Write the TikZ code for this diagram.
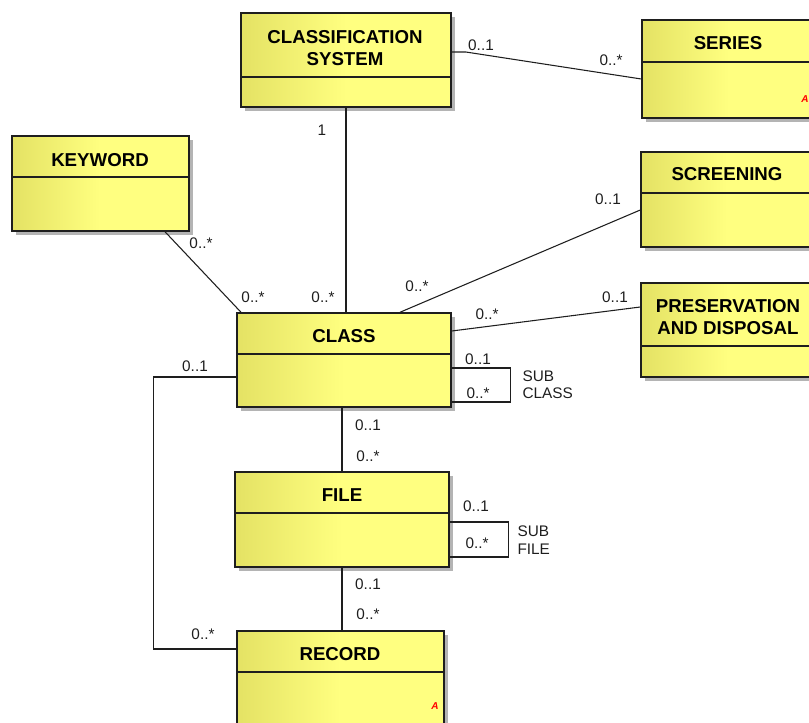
\documentclass[tikz,border=0pt]{standalone}
\usepackage{fontspec}
\setmainfont{Liberation Sans}
\usetikzlibrary{shadows, fit, calc}
\definecolor{umlleft}{RGB}{228,226,100}
\definecolor{umlright}{RGB}{255,255,128}
\definecolor{umlshadow}{RGB}{180,180,180}
\definecolor{umlink}{RGB}{30,30,30}

\begin{document}
\begin{tikzpicture}[x=0.75pt, y=-0.75pt, color=umlink, line width=0.8pt,
        umlbox/.style={draw=umlink, line width=1.1pt, inner sep=0pt, left color=umlleft, right color=umlright, middle color=umlright,
            drop shadow={shadow xshift=3pt, shadow yshift=-3pt, fill=umlshadow, opacity=1}},
        umltitle/.style={font=\fontsize{14}{17}\selectfont\bfseries, text=black, align=center, inner sep=0pt},
        mult/.style={font=\fontsize{11.5}{13}\selectfont, text=umlink, inner sep=0pt},
        role/.style={mult, align=left, anchor=west},
        flag/.style={font=\fontsize{7.5}{8}\selectfont\bfseries\itshape, text=red, inner sep=0pt}]
        \clip (0,0) rectangle (809,723);
        % classes
        \node[umlbox, fit={(241,13) (451,107)}] (cs) {};
        \node[umlbox, fit={(642,20) (816,118)}] (series) {};
        \node[umlbox, fit={(12,136) (189,231)}] (keyword) {};
        \node[umlbox, fit={(641,152) (813,247)}] (screening) {};
        \node[umlbox, fit={(641,283) (815,377)}] (preserv) {};
        \node[umlbox, fit={(237,313) (451,407)}] (class) {};
        \node[umlbox, fit={(235,472) (449,567)}] (file) {};
        \node[umlbox, fit={(237,631) (444,726)}] (record) {};
        \draw (cs.west |- 0,77) -- (cs.east |- 0,77);
        \draw (series.west |- 0,62) -- (series.east |- 0,62);
        \draw (keyword.west |- 0,177) -- (keyword.east |- 0,177);
        \draw (screening.west |- 0,193) -- (screening.east |- 0,193);
        \draw (preserv.west |- 0,346) -- (preserv.east |- 0,346);
        \draw (class.west |- 0,354) -- (class.east |- 0,354);
        \draw (file.west |- 0,513) -- (file.east |- 0,513);
        \draw (record.west |- 0,672) -- (record.east |- 0,672);
        \node[umltitle] (cstitle) at (345,48) {CLASSIFICATION\\SYSTEM};
        \node[umltitle] (seriestitle) at (728,43) {SERIES};
        \node[umltitle] (keywordtitle) at (100,160) {KEYWORD};
        \node[umltitle] (screeningtitle) at (727,174) {SCREENING};
        \node[umltitle] (preservtitle) at (728,317) {PRESERVATION\\AND DISPOSAL};
        \node[umltitle] (classtitle) at (344,336) {CLASS};
        \node[umltitle] (filetitle) at (342,495) {FILE};
        \node[umltitle] (recordtitle) at (340,654) {RECORD};
        \node[flag] (seriesflag) at (805,99) {A};
        \node[flag] (recordflag) at (435,706) {A};
        % associations
        \draw (cs.east |- 0,52) -- ++(14,0) -- (series.west |- 0,79);
        \draw (cs.south) -- (cs.south |- class.north);
        \draw (keyword.south -| 165,0) -- (class.north -| 241,0);
        \draw (screening.west |- 0,210) -- (class.north -| 400,0);
        \draw (preserv.west |- 0,307) -- (class.east |- 0,331);
        \draw (class.east |- 0,368) -- ++(59,0) |- (class.east |- 0,402);
        \draw (class.south -| file.north) -- (file.north);
        \draw (class.west |- 0,377) -- ++(-83,0) |- (record.west |- 0,649);
        \draw (file.east |- 0,522) -- ++(59,0) |- (file.east |- 0,557);
        \draw (file.south) -- (file.south |- record.north);
        % multiplicities
        \node[mult] (cs1) at (481,45) {0..1};
        \node[mult] (series1) at (611,60) {0..*};
        \node[mult] (cs2) at (322,130) {1};
        \node[mult] (class1) at (323,297) {0..*};
        \node[mult] (class2) at (253,297) {0..*};
        \node[mult] (keyword1) at (201,243) {0..*};
        \node[mult] (screening1) at (608,199) {0..1};
        \node[mult] (class3) at (417,286) {0..*};
        \node[mult] (preserv1) at (615,297) {0..1};
        \node[mult] (class4) at (487,314) {0..*};
        \node[mult] (class5) at (478,359) {0..1};
        \node[mult] (class6) at (478,393) {0..*};
        \node[role] (subclass) at (522,385) {SUB\\CLASS};
        \node[mult] (class7) at (195,366) {0..1};
        \node[mult] (class8) at (368,425) {0..1};
        \node[mult] (file1) at (368,456) {0..*};
        \node[mult] (file2) at (476,506) {0..1};
        \node[mult] (file3) at (477,543) {0..*};
        \node[role] (subfile) at (517,540) {SUB\\FILE};
        \node[mult] (file4) at (368,584) {0..1};
        \node[mult] (record1) at (368,614) {0..*};
        \node[mult] (record2) at (203,634) {0..*};
    \end{tikzpicture}
\end{document}
